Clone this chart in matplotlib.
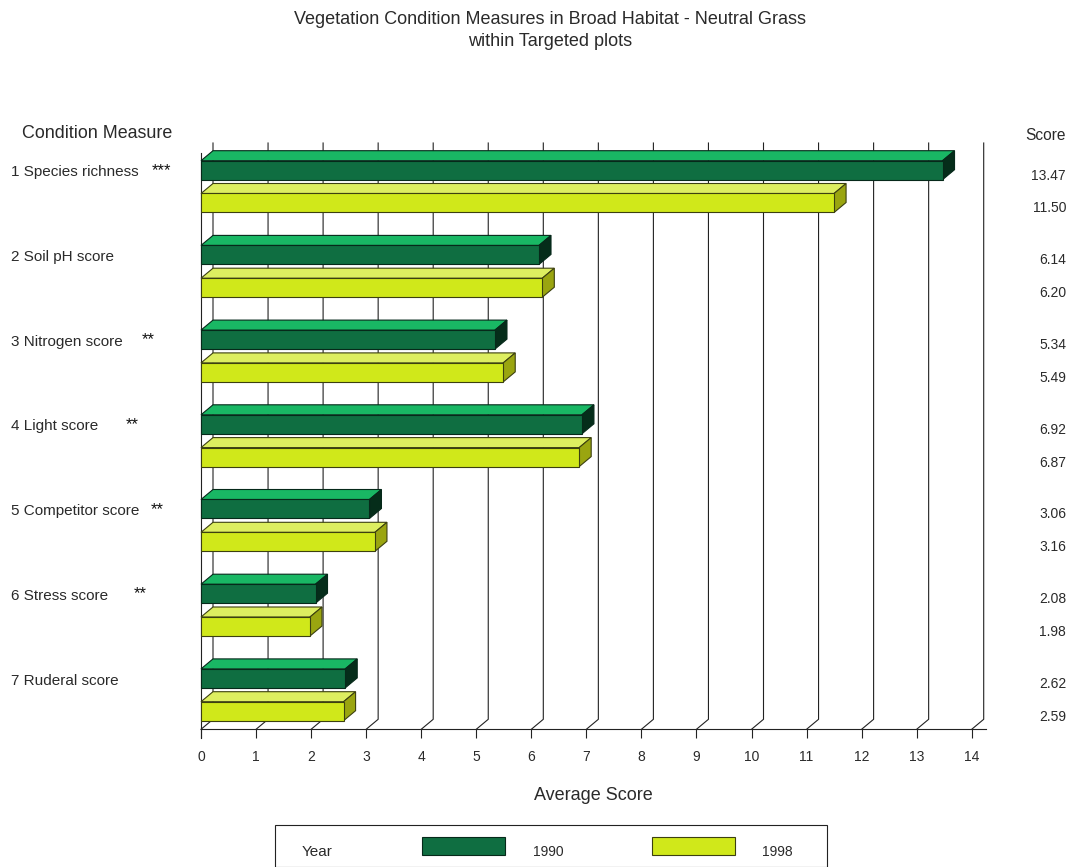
import matplotlib
matplotlib.use("Agg")
import matplotlib.pyplot as plt
from matplotlib.patches import Polygon, Rectangle
from matplotlib.transforms import blended_transform_factory

plt.rcParams["font.family"] = ["Liberation Sans", "DejaVu Sans"]

measures = ["1 Species richness", "2 Soil pH score", "3 Nitrogen score", "4 Light score",
            "5 Competitor score", "6 Stress score", "7 Ruderal score"]
stars = ["***", "", "**", "**", "**", "**", ""]
scores_1990 = [13.47, 6.14, 5.34, 6.92, 3.06, 2.08, 2.62]
scores_1998 = [11.50, 6.20, 5.49, 6.87, 3.16, 1.98, 2.59]
years = ["1990", "1998"]
x_ticks = list(range(15))

W, H = 1073, 867
GREEN = ("#0f6e41", "#19b764", "#052d1a", "#06291a")
YELLOW = ("#d0e81a", "#ddee60", "#9aa510", "#3c4010")
TEXT = "#2a2a2a"
LINE = "#222222"
LW = 0.8

# layout in pixels
X0, X14 = 201.0, 971.7
Y_TOP, Y_AXIS = 143.0, 729.3
GROUP_H = 84.7
FIRST_GROUP = 186.6
px_x = (X14 - X0) / 14
DX = 12 / px_x
DY = 10 / GROUP_H
BAR_H = 19 / GROUP_H
BAR_OFF = 16.4 / GROUP_H

fig = plt.figure(figsize=(W / 100, H / 100), dpi=100, facecolor="white")
ax = fig.add_axes([X0 / W, 1 - Y_AXIS / H, (X14 - X0) / W, (Y_AXIS - Y_TOP) / H])
ax.set_xlim(0, 14)
ax.set_ylim((Y_AXIS - FIRST_GROUP) / GROUP_H, (Y_TOP - FIRST_GROUP) / GROUP_H)
floor = ax.get_ylim()[0]
ceil = ax.get_ylim()[1]

for s in ["top", "right", "left"]:
    ax.spines[s].set_visible(False)
ax.spines["bottom"].set_color(LINE)
ax.spines["bottom"].set_linewidth(LW)
ax.spines["bottom"].set_bounds(0, 14 + 14.5 / px_x)
ax.set_yticks([])
ax.set_xticks(x_ticks)
ax.tick_params(axis="x", length=6.5, width=LW, color=LINE, pad=8.5, labelsize=10, labelcolor=TEXT)

# back wall grid: vertical line plus the diagonal down to the axis
for t in x_ticks:
    ax.plot([t + DX, t + DX, t], [ceil, floor - DY, floor], color=LINE, lw=LW, clip_on=False, zorder=1)
ax.plot([0, 0], [floor + 8.5 / GROUP_H, ceil + DY], color=LINE, lw=LW, clip_on=False, zorder=1)


def draw_bar(v, y, colors):
    front, top, side, edge = colors
    y0, y1 = y - BAR_H / 2, y + BAR_H / 2
    ax.add_patch(Polygon([(0, y0), (DX, y0 - DY), (v + DX, y0 - DY), (v, y0)],
                         fc=top, ec=edge, lw=LW, zorder=3, clip_on=False))
    ax.add_patch(Polygon([(v, y0), (v + DX, y0 - DY), (v + DX, y1 - DY), (v, y1)],
                         fc=side, ec=edge, lw=LW, zorder=3, clip_on=False))
    ax.barh(y, v, height=BAR_H, color=front, edgecolor=edge, linewidth=LW, zorder=4, clip_on=False)


for i in range(len(measures)):
    draw_bar(scores_1990[i], i - BAR_OFF, GREEN)
    draw_bar(scores_1998[i], i + BAR_OFF, YELLOW)

# row labels share the data y scale, x stays in figure space
lab = blended_transform_factory(fig.transFigure, ax.transData)
label_shift = -14.2 / GROUP_H
score_shift = 5.5 / GROUP_H
star_x = [161, 0, 148, 132, 157, 140, 0]
for i, name in enumerate(measures):
    ax.text(11 / W, i + label_shift, name, transform=lab, fontsize=11, color=TEXT,
            ha="left", va="center", clip_on=False)
    if stars[i]:
        ax.text(star_x[i] / W, i + label_shift - 2 / GROUP_H, stars[i], transform=lab, fontsize=12,
                color="#111111", ha="center", va="center", clip_on=False)
    ax.text(1066 / W, i - BAR_OFF + score_shift, f"{scores_1990[i]:.2f}", transform=lab, fontsize=10,
            color=TEXT, ha="right", va="center", clip_on=False)
    ax.text(1066 / W, i + BAR_OFF + score_shift, f"{scores_1998[i]:.2f}", transform=lab, fontsize=10,
            color=TEXT, ha="right", va="center", clip_on=False)


def put_text(x, y, s, size, ha="center"):
    fig.text(x / W, 1 - y / H, s, fontsize=size, color=TEXT, ha=ha, va="center")


put_text(550.5, 20, "Vegetation Condition Measures in Broad Habitat - Neutral Grass", 13)
put_text(550.5, 42, "within Targeted plots", 13)
put_text(22, 134, "Condition Measure", 12.9, ha="left")
put_text(1066, 135, "Score", 11.2, ha="right")
put_text(593.5, 796, "Average Score", 13)


def fig_rect(x0, y0, x1, y1, **kw):
    fig.add_artist(Rectangle((x0 / W, 1 - y1 / H), (x1 - x0) / W, (y1 - y0) / H,
                             transform=fig.transFigure, **kw))


# legend panel runs off the bottom edge
fig_rect(274.5, 824.5, 827, 866.5, fc="white", ec=LINE, lw=LW)
fig_rect(422, 837, 505, 855, fc=GREEN[0], ec=GREEN[3], lw=LW)
fig_rect(652, 837, 735, 855, fc=YELLOW[0], ec=YELLOW[3], lw=LW)
put_text(302, 851.5, "Year", 11, ha="left")
put_text(533, 851.5, years[0], 10, ha="left")
put_text(762, 851.5, years[1], 10, ha="left")

fig.savefig("out.png", dpi=100, facecolor="white")
